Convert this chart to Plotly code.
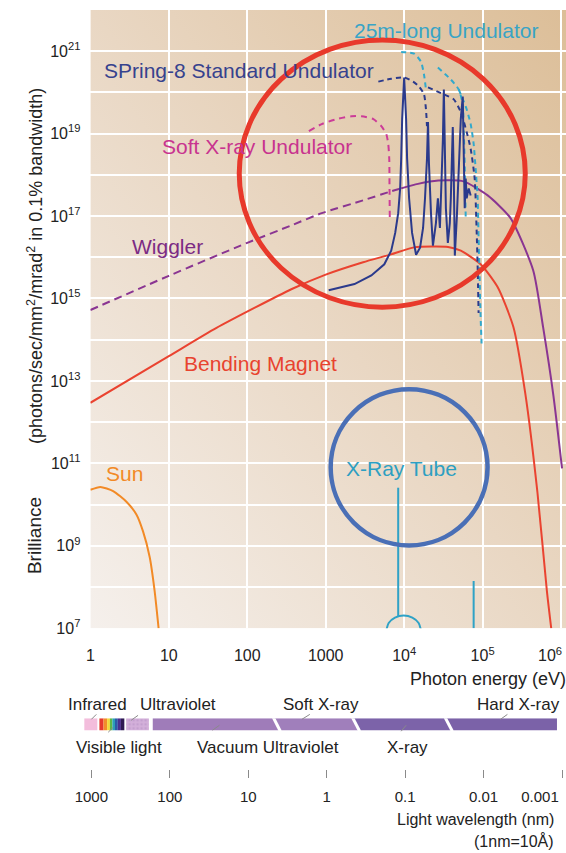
import base64
import numpy as np
import plotly.graph_objects as go

# ---------------------------------------------------------------------------
# Brilliance curves: photon energy in eV, brilliance given as log10 of
# photons/sec/mm^2/mrad^2 in 0.1% bandwidth
# ---------------------------------------------------------------------------
sun_energy = [1.0, 1.34, 1.95, 2.88, 3.86, 4.69, 5.70, 6.59, 7.41]
sun_log_b = [10.36, 10.43, 10.33, 10.07, 9.76, 9.35, 8.73, 7.91, 7.0]

bending_energy = [1, 10, 40, 370, 1000, 3000, 6800, 13400, 36300, 52800,
                  94500, 156000, 247000, 350000, 500000, 660000, 750000]
bending_log_b = [12.47, 13.6, 14.28, 15.23, 15.58, 15.88, 16.07, 16.24, 16.25,
                 16.16, 15.83, 15.27, 14.31, 12.7, 10.3, 7.91, 7.0]

wiggler_low_energy = [1, 10, 100, 372, 889, 3000, 6839, 9162]
wiggler_low_log_b = [14.72, 15.55, 16.35, 16.78, 17.07, 17.38, 17.6, 17.67]
wiggler_high_energy = [9162, 15000, 27300, 57000, 116000, 227000, 442000,
                       590000, 800000, 1030000]
wiggler_high_log_b = [17.67, 17.78, 17.86, 17.84, 17.5, 16.95, 15.68,
                      14.31, 12.64, 10.88]

soft_und_energy = [610, 889, 1377, 2133, 2858, 4053, 5117, 5916, 6270, 6457,
                   6510, 6560]
soft_und_log_b = [19.06, 19.23, 19.35, 19.42, 19.42, 19.35, 19.18, 18.99,
                  18.75, 18.39, 17.67, 16.95]

std_und_energy = [1091, 2328, 3819, 5585, 6839, 7690, 8395, 8890, 9162, 9430,
                  10000, 10590, 10910, 11560, 12620, 14190, 15950, 17420,
                  18450, 19540, 20140, 20720, 21980, 23280, 25410, 26920,
                  28560, 30270, 31190, 32060, 33030, 34040, 36060, 38220,
                  39360, 40520, 41690, 42950, 44260, 46880, 49660, 52720,
                  55850, 57410, 59160, 60950, 62660, 66530, 70470]
std_und_log_b = [15.20, 15.35, 15.56, 15.83, 16.16, 16.59, 17.07, 17.67,
                 18.39, 19.35, 20.36, 19.35, 18.39, 17.43, 16.59, 16.06,
                 16.23, 16.71, 17.43, 18.39, 19.28, 18.27, 17.07, 16.28,
                 16.83, 17.43, 16.71, 17.91, 18.87, 20.07, 18.63, 17.19,
                 16.35, 16.83, 17.43, 18.39, 19.16, 17.91, 16.04, 16.95,
                 18.39, 19.35, 19.90, 18.63, 17.19, 17.91, 17.43, 17.67,
                 17.50]

std_env1_energy = [4688, 6839, 10000, 13000, 15490, 17910, 18970, 19540]
std_env1_log_b = [20.26, 20.33, 20.36, 20.26, 20.14, 19.95, 19.59, 19.18]
std_env2_energy = [20140, 32060, 42950, 52720, 62660, 70470, 79250, 83950,
                   86500, 88920]
std_env2_log_b = [20.12, 19.95, 19.83, 19.52, 19.04, 18.63, 17.91, 16.64,
                  15.75, 14.65]

long_env1_energy = [9162, 13400, 16410, 17910, 18970]
long_env1_log_b = [20.98, 20.94, 20.74, 20.43, 20.07]
long_env2_energy = [26920, 39360, 49660, 55850, 57410, 59160, 60950]
long_env2_log_b = [20.60, 20.31, 20.07, 19.71, 19.11, 18.27, 16.95]
long_env3_energy = [49660, 62660, 70470, 76910, 81470, 86500, 88920, 91620,
                    94410, 97050]
long_env3_log_b = [20.07, 19.59, 19.23, 18.75, 18.15, 17.43, 16.47, 15.51,
                   14.55, 13.91]

tube_cont_energy = [5916, 6350, 7640, 9860, 12710, 15300, 16410]
tube_cont_log_b = [6.95, 7.13, 7.26, 7.31, 7.26, 7.13, 6.95]
tube_line_energy = [8395, 76910]
tube_line_base_log_b = [7.30, 7.0]
tube_line_top_log_b = [10.41, 8.15]

# highlighted regions: (energy range eV, log10 brilliance range)
highlight_red = ((79, 3.5e5), (14.79, 21.27))
highlight_blue = ((1157, 1.157e5), (9.01, 12.80))

energy_ticks = [1, 10, 100, 1000, 1e4, 1e5]
energy_tick_text = ["1", "10", "100", "1000", "10<sup>4</sup>",
                    "10<sup>5</sup>"]
energy_end_tick = [1e6]
energy_end_text = ["10<sup>6</sup>"]
brilliance_exponents = list(range(7, 23))
brilliance_tick_text = [f"10<sup>{e}</sup>" if e % 2 == 1 and e < 22 else ""
                        for e in brilliance_exponents]

# ---------------------------------------------------------------------------
# Spectrum bar: band edges in nm (long-wavelength edge, short-wavelength
# edge), each as (top, bottom) so the X-ray bands get slanted joints
# ---------------------------------------------------------------------------
band_names = ["Infrared", "Ultraviolet", "Vacuum Ultraviolet", "Soft X-ray",
              "X-ray", "Hard X-ray"]
band_long_edge = [(1230, 1230), (360, 360), (165, 165), (4.8, 3.9),
                  (0.47, 0.38), (0.031, 0.025)]
band_short_edge = [(840, 840), (185, 185), (4.8, 3.9), (0.47, 0.38),
                   (0.031, 0.025), (0.00116, 0.00116)]
band_colors = ["#f3bddc", "#d3b0da", "#9f7cb9", "#a07fbb", "#7c63a9",
               "#7b62a8"]
visible_edges = [790, 700, 630, 580, 540, 500, 460, 420, 380]
visible_colors = ["#e5392e", "#f28b2b", "#f3d93a", "#5db748", "#2b9fb9",
                  "#2c5aa8", "#4b2f8f", "#2f1a52"]
band_joints = [(4.8, 3.9), (0.47, 0.38), (0.031, 0.025)]

wavelength_ticks = [1000, 100, 10, 1, 0.1, 0.01]
wavelength_tick_text = ["1000", "100", "10", "1", "0.1", "0.01"]
wavelength_end_tick = [0.001]
wavelength_end_text = ["0.001"]

# ---------------------------------------------------------------------------
W, H = 566, 853
SANS = "Liberation Sans, Arial, sans-serif"


def fx(px):
    return px / W


def fy(py):
    return 1 - py / H


def pw(v):
    return [10.0 ** x for x in v]


fig = go.Figure()


def curve(energy, log_b, color, width=2.0, dash=None, shape="spline"):
    fig.add_trace(go.Scatter(
        x=energy, y=pw(log_b), mode="lines",
        line=dict(color=color, width=width, dash=dash, shape=shape,
                  smoothing=0.6),
        hoverinfo="skip", xaxis="x", yaxis="y"))


PURPLE = "#8a3592"
NAVY = "#2b3a8c"
CYAN = "#32a9cc"
MAGENTA = "#cc3c98"
RED = "#ea4330"
ORANGE = "#f28a26"
TEAL = "#2fa2c6"

curve(sun_energy, sun_log_b, ORANGE)
curve(bending_energy, bending_log_b, RED)
curve(wiggler_low_energy, wiggler_low_log_b, PURPLE, dash="8px,5px")
curve(wiggler_high_energy, wiggler_high_log_b, PURPLE)
curve(soft_und_energy, soft_und_log_b, MAGENTA, dash="6px,5px")
curve(long_env1_energy, long_env1_log_b, CYAN, dash="5px,4px")
curve(long_env2_energy, long_env2_log_b, CYAN, dash="5px,4px")
curve(long_env3_energy, long_env3_log_b, CYAN, dash="5px,4px")
curve(std_env1_energy, std_env1_log_b, NAVY, dash="5px,4px")
curve(std_env2_energy, std_env2_log_b, NAVY, dash="5px,4px")
curve(std_und_energy, std_und_log_b, NAVY, shape="linear")
curve(tube_cont_energy, tube_cont_log_b, TEAL)
for e, lo, hi in zip(tube_line_energy, tube_line_base_log_b,
                     tube_line_top_log_b):
    curve([e, e], [lo, hi], TEAL, shape="linear")

# spectrum bar
BAR_TOP, BAR_BOT = 1.0, 0.765
for (lt, lb), (st, sb), col in zip(band_long_edge, band_short_edge,
                                   band_colors):
    kw = {}
    if col == "#d3b0da":
        kw["fillpattern"] = dict(shape=".", fgcolor="#b58fc4",
                                 bgcolor="#d3b0da", size=4, solidity=0.35)
    fig.add_trace(go.Scatter(
        x=[lt, st, sb, lb, lt], y=[BAR_TOP, BAR_TOP, BAR_BOT, BAR_BOT, BAR_TOP],
        mode="lines", fill="toself", fillcolor=col, line=dict(width=0),
        hoverinfo="skip", xaxis="x2", yaxis="y2", **kw))
for a, b, col in zip(visible_edges[:-1], visible_edges[1:], visible_colors):
    fig.add_trace(go.Scatter(
        x=[a, b, b, a, a], y=[BAR_TOP, BAR_TOP, BAR_BOT, BAR_BOT, BAR_TOP],
        mode="lines", fill="toself", fillcolor=col, line=dict(width=0),
        hoverinfo="skip", xaxis="x2", yaxis="y2"))
for top, bot in band_joints:
    fig.add_trace(go.Scatter(
        x=[top, bot], y=[BAR_TOP + 0.02, BAR_BOT - 0.02], mode="lines",
        line=dict(color="white", width=3), hoverinfo="skip",
        xaxis="x2", yaxis="y2"))
# empty traces so the overlay axes carrying the end labels get drawn
fig.add_trace(go.Scatter(x=[], y=[], xaxis="x3", yaxis="y2",
                         hoverinfo="skip"))
fig.add_trace(go.Scatter(x=[], y=[], xaxis="x4", yaxis="y",
                         hoverinfo="skip"))

# highlight circles
for (xr, yr), col, wdt in [(highlight_red, "#e8392b", 5),
                           (highlight_blue, "#4a6fb6", 4.5)]:
    fig.add_shape(type="circle", xref="x", yref="y",
                  x0=xr[0], x1=xr[1], y0=10 ** yr[0], y1=10 ** yr[1],
                  line=dict(color=col, width=wdt), layer="above")

# background gradient for the plot area
svg = ('<svg xmlns="http://www.w3.org/2000/svg" viewBox="0 0 100 100" '
       'width="100" height="100" preserveAspectRatio="none">'
       '<defs><linearGradient id="g" x1="0" y1="1" x2="1" y2="0">'
       '<stop offset="0" stop-color="#f5f0ec"/>'
       '<stop offset="0.5" stop-color="#e9d7c3"/>'
       '<stop offset="1" stop-color="#dcbe98"/>'
       '</linearGradient></defs>'
       '<rect width="100" height="100" fill="url(#g)"/></svg>')
bg_src = "data:image/svg+xml;base64," + base64.b64encode(svg.encode()).decode()

PL, PR, PT, PB = 87, 566, 10, 635
fig.add_layout_image(dict(source=bg_src, xref="paper", yref="paper",
                          x=fx(PL), y=fy(PT), sizex=fx(PR) - fx(PL),
                          sizey=fy(PT) - fy(PB), sizing="stretch",
                          xanchor="left", yanchor="top", layer="below"))

# text labels
def label(text, x, y, color, size=21, xanchor="left", family=SANS,
          angle=0):
    fig.add_annotation(text=text, x=fx(x), y=fy(y), xref="paper",
                       yref="paper", showarrow=False, xanchor=xanchor,
                       yanchor="middle", textangle=angle,
                       font=dict(family=family, size=size, color=color))


label("25m-long Undulator", 350, 31, "#38a4c6")
label("SPring-8 Standard Undulator", 99, 71, "#36428e")
label("Soft X-ray Undulator", 157, 148, "#c8338f")
label("Wiggler", 127, 249, "#7c2b84")
label("Bending Magnet", 179, 367, "#e8432f")
label("Sun", 101, 479, "#f28a26")
label("X-Ray Tube", 342, 473, "#2d9fc2")

label("(photons/sec/mm<sup>2</sup>/mrad<sup>2</sup> in 0.1% bandwidth)",
      31, 269, "#222", size=18, xanchor="center", angle=-90)
label("Brilliance", 31, 541, "#222", size=19, xanchor="center", angle=-90)
label("Photon energy (eV)", 407, 686, "#222", size=18)

label("Infrared", 62, 712, "#222", size=17)
label("Ultraviolet", 135, 712, "#222", size=17)
label("Soft X-ray", 279, 712, "#222", size=17)
label("Hard X-ray", 474, 712, "#222", size=17)
label("Visible light", 71, 755, "#222", size=17)
label("Vacuum Ultraviolet", 192, 755, "#222", size=17)
label("X-ray", 384, 755, "#222", size=17)
label("Light wavelength (nm)", 556, 828, "#222", size=16, xanchor="right")
label("(1nm=10Å)", 556, 850, "#222", size=16, xanchor="right")

# leader lines from band labels to the bar
for x0, y0, x1, y1 in [(88, 727, 93, 722), (128, 728, 135, 723),
                       (105, 740, 110, 735), (300, 727, 308, 722),
                       (210, 738, 217, 733), (400, 739, 405, 733),
                       (500, 727, 507, 722)]:
    fig.add_shape(type="line", xref="paper", yref="paper", x0=fx(x0),
                  y0=fy(y0), x1=fx(x1), y1=fy(y1),
                  line=dict(color="#8a8a8a", width=1))

TICKFONT = dict(family=SANS, size=16, color="#222")
WL_FONT = dict(family=SANS, size=15, color="#222")
energy_axis = dict(type="log", range=[0, (PR - PL) / 79],
                   domain=[fx(PL), fx(PR)], anchor="y",
                   showgrid=True, gridcolor="white", gridwidth=2,
                   zeroline=False, showline=False, ticks="",
                   tickfont=TICKFONT, ticklabelstandoff=16)
wave_axis = dict(type="log", range=[3 + 28 / 79, -3 - 4 / 79],
                 domain=[fx(60), 1], anchor="y2", showgrid=False,
                 zeroline=False, showline=False, ticks="outside", ticklen=8,
                 tickcolor="#8a8a8a", tickwidth=1, ticklabelstandoff=6,
                 tickfont=WL_FONT)
fig.update_layout(
    width=W, height=H, margin=dict(l=0, r=0, t=0, b=0),
    paper_bgcolor="white", plot_bgcolor="rgba(0,0,0,0)", showlegend=False,
    xaxis=dict(energy_axis, tickvals=energy_ticks,
               ticktext=energy_tick_text),
    xaxis4=dict(energy_axis, overlaying="x", tickvals=energy_end_tick,
                ticktext=energy_end_text, ticklabelshift=-11),
    yaxis=dict(type="log", range=[7, 22], domain=[fy(PB), fy(PT)],
               anchor="x", showgrid=True, gridcolor="white", gridwidth=2,
               zeroline=False, showline=False, ticks="",
               tickvals=[10.0 ** e for e in brilliance_exponents],
               ticktext=brilliance_tick_text, tickfont=TICKFONT,
               ticklabelstandoff=9),
    xaxis2=dict(wave_axis, tickvals=wavelength_ticks,
                ticktext=wavelength_tick_text),
    xaxis3=dict(wave_axis, overlaying="x2", ticklabelshift=22,
                tickvals=wavelength_end_tick, ticktext=wavelength_end_text),
    yaxis2=dict(range=[0, 1], domain=[fy(777), fy(726)], anchor="x2",
                visible=False),
)

fig.write_html("out.html")
